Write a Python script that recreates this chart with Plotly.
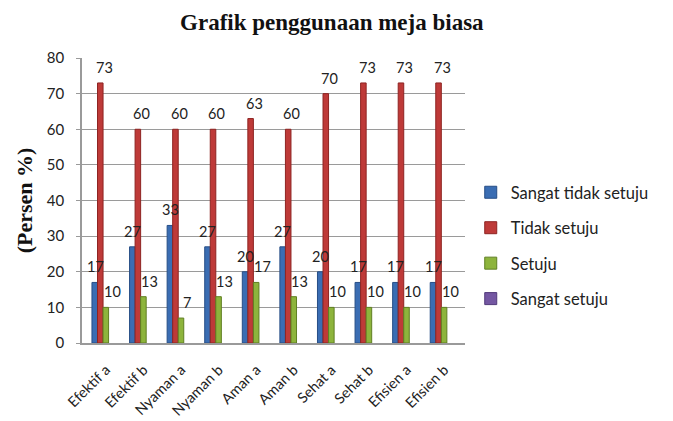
import plotly.graph_objects as go

categories = ["Efektif a", "Efektif b", "Nyaman a", "Nyaman b", "Aman a",
              "Aman b", "Sehat a", "Sehat b", "Efisien a", "Efisien b"]
sangat_tidak_setuju = [17, 27, 33, 27, 20, 27, 20, 17, 17, 17]
tidak_setuju = [73, 60, 60, 60, 63, 60, 70, 73, 73, 73]
setuju = [10, 13, 7, 13, 17, 13, 10, 10, 10, 10]
sangat_setuju = [None] * 10
y_ticks = [0, 10, 20, 30, 40, 50, 60, 70, 80]

series = [
    ("Sangat tidak setuju", sangat_tidak_setuju, "#3A6DB3", "#274E86"),
    ("Tidak setuju", tidak_setuju, "#BE3A38", "#8E2422"),
    ("Setuju", setuju, "#8DB43C", "#5F7F22"),
    ("Sangat setuju", sangat_setuju, "#7457A2", "#513A7A"),
]
# pixel shift of each series' label within a category group
label_xshift = [-8, 1, 9, 0]

label_font = dict(family="Lato, Open Sans, sans-serif", size=14.5, color="#222222")

fig = go.Figure()
for i, (name, vals, col, edge) in enumerate(series):
    fig.add_trace(go.Bar(
        x=categories, y=vals, name=name,
        marker=dict(color=col, line=dict(color=edge, width=1)),
        legendgroup=f"g{i}",
    ))
    for cat, v in zip(categories, vals):
        if v is None:
            continue
        fig.add_annotation(
            x=cat, y=v, text=str(v), showarrow=False,
            xanchor="center", yanchor="bottom",
            xshift=label_xshift[i], yshift=5,
            font=label_font,
        )

# page body has an 8px margin; the figure is sized to fit the 673x421 window
fig.update_layout(
    width=665, height=413,
    margin=dict(l=74, r=208, t=50, b=78),
    paper_bgcolor="white", plot_bgcolor="white",
    barmode="group", bargap=0.41, bargroupgap=0,
    title=dict(text="<b>Grafik penggunaan meja biasa</b>",
               x=0.487, xanchor="center", y=0.966, yanchor="middle",
               font=dict(family="Liberation Serif, serif", size=23, color="#111111")),
    showlegend=True,
    legend=dict(x=1.015, xanchor="left", y=0.342, yanchor="middle",
                traceorder="grouped", tracegroupgap=11,
                font=dict(family="Lato, Open Sans, sans-serif", size=16.5, color="#222222"),
                itemwidth=30),
)

fig.update_xaxes(
    type="category", range=[-0.56, 9.63], automargin=False,
    showline=True, linecolor="#9A9A9A", linewidth=1.5,
    showgrid=False, ticks="", tickangle=-45,
    ticklabelstandoff=11, ticklabelshift=3,
    tickfont=dict(family="Lato, Open Sans, sans-serif", size=14.5, color="#222222"),
)
fig.update_yaxes(
    range=[0, 80], tickvals=y_ticks, automargin=False,
    showline=True, linecolor="#9A9A9A", linewidth=1.5,
    showgrid=True, gridcolor="#9A9A9A", gridwidth=1,
    ticks="outside", ticklen=4, tickcolor="#9A9A9A",
    ticklabelstandoff=9,
    tickfont=dict(family="Lato, Open Sans, sans-serif", size=15, color="#222222"),
    title=dict(text="<b>(Persen %)</b>", standoff=8,
               font=dict(family="Liberation Serif, serif", size=22, color="#111111")),
)

fig.write_html("out.html")
